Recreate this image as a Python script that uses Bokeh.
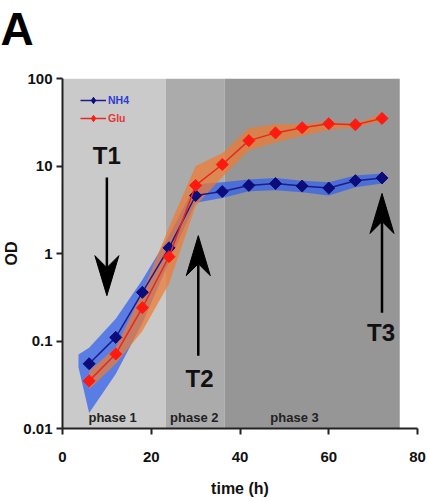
import numpy as np
from bokeh.plotting import figure
from bokeh.models import Legend, LegendItem, FixedTicker, Range1d, Title
from bokeh.core.properties import value
from bokeh.embed import file_html
from bokeh.resources import INLINE

# ---------------- data ----------------
times = [6, 12, 18, 24, 30, 36, 42, 48, 54, 60, 66, 72]
nh4 = [0.055, 0.11, 0.36, 1.16, 4.6, 5.1, 6.0, 6.3, 5.9, 5.6, 6.8, 7.3]
glu = [0.035, 0.071, 0.24, 0.92, 6.0, 10.4, 19.5, 23.9, 27.4, 30.4, 29.6, 35.0]

nh4_band_t = [3.6, 6, 12, 18, 24, 30, 36, 42, 48, 54, 60, 66, 72]
nh4_hi = [0.070, 0.084, 0.18, 0.50, 1.6, 6.2, 6.5, 7.0, 7.3, 6.8, 6.5, 7.8, 8.2]
nh4_lo = [0.050, 0.015, 0.042, 0.16, 0.8, 3.8, 4.3, 5.15, 5.3, 5.0, 4.6, 5.7, 6.3]

glu_band_t = [6, 12, 18, 24, 30, 36, 42, 48, 54, 60, 66, 72]
glu_hi = [0.045, 0.085, 0.36, 2.0, 10.0, 14.0, 27.0, 30.0, 30.0, 32.0, 30.0, 40.0]
glu_lo = [0.028, 0.055, 0.13, 0.45, 3.5, 7.5, 15.0, 18.6, 22.0, 26.0, 27.5, 33.0]

phase_start = [0, 23.3, 36.5]
phase_end = [23.3, 36.5, 76]
phase_names = ["phase 1", "phase 2", "phase 3"]
phase_label_x = [11.3, 29.7, 52.3]

x_ticks = [0, 20, 40, 60, 80]
y_ticks = [0.01, 0.1, 1, 10, 100]
y_tick_labels = ["0.01", "0.1", "1", "10", "100"]

# arrows: (x, start, tip)
arrow_x = [10, 30.6, 72]
arrow_start = [7.4, 0.068, 0.21]
arrow_tip = [0.33, 1.6, 4.85]
arrow_names = ["T1", "T2", "T3"]
arrow_label_x = [10, 30.9, 71.8]
arrow_label_y = [13.2, 0.037, 0.125]

FONT = "Liberation Sans"

# ---------------- figure ----------------
FW, FH = 355, 350
p = figure(width=428, height=501, x_range=Range1d(0, 80), y_range=Range1d(0.01, 100),
           y_axis_type="log", output_backend="svg", toolbar_location=None, title=None,
           min_border_left=62, min_border_right=11, min_border_top=78, min_border_bottom=73)
p.outline_line_color = None
p.xgrid.visible = False
p.ygrid.visible = False
p.background_fill_color = "white"

# phases
p.quad(left=phase_start, right=phase_end, bottom=0.01, top=100,
       fill_color=["#cacaca", "#ababab", "#969696"], line_color=None)

# bands
p.varea(x=nh4_band_t, y1=nh4_lo, y2=nh4_hi, fill_color="#2f5ff0", fill_alpha=0.72)
p.varea(x=glu_band_t, y1=glu_lo, y2=glu_hi, fill_color="#f07a30", fill_alpha=0.72)

# series
NAVY, RED = "#0c0c7a", "#ff1a10"
l_nh4 = p.line(times, nh4, line_color="#1c1c8c", line_width=1.5)
m_nh4 = p.scatter(times, nh4, marker="square", angle=np.pi / 4, size=8.5,
                  fill_color=NAVY, line_color=NAVY)
l_glu = p.line(times, glu, line_color="#e8281e", line_width=1.5)
m_glu = p.scatter(times, glu, marker="square", angle=np.pi / 4, size=8.5,
                  fill_color=RED, line_color=RED)

# key-only marker glyphs (nothing visible in the plot) so the legend shows diamonds
k_nh4 = p.scatter(x=[np.nan], y=[np.nan], marker="diamond", size=13,
                  fill_color=NAVY, line_color=NAVY)
k_glu = p.scatter(x=[np.nan], y=[np.nan], marker="diamond", size=13,
                  fill_color=RED, line_color=RED)

# arrows
PX_X = FW / 80.0
PX_DEC = FH / 4.0


def head(x, tip, direction, length=40, notch=28, half_w=12):
    dx = half_w / PX_X
    back = tip * 10 ** (-direction * length / PX_DEC)
    nt = tip * 10 ** (-direction * notch / PX_DEC)
    return [x, x + dx, x, x - dx], [tip, back, nt, back], nt


hx, hy, sx0, sy0, sy1 = [], [], [], [], []
for x, s, t in zip(arrow_x, arrow_start, arrow_tip):
    d = 1 if t > s else -1
    xs, ys, nt = head(x, t, d)
    hx.append(xs)
    hy.append(ys)
    sx0.append(x)
    sy0.append(s)
    sy1.append(nt)
p.segment(x0=sx0, y0=sy0, x1=sx0, y1=sy1, line_color="black", line_width=2.5)
p.patches(hx, hy, fill_color="black", line_color="black", line_width=1)

p.text(x=arrow_label_x, y=arrow_label_y, text=arrow_names, text_font=value(FONT),
       text_font_style="bold", text_font_size="24px", text_align="center",
       text_baseline="middle", text_color="#111111")

# phase labels
p.text(x=phase_label_x, y=[0.0134] * 3, text=phase_names, text_font=value(FONT),
       text_font_style="bold", text_font_size="13px", text_align="center",
       text_baseline="middle", text_color="#222222")

# legends (location y = legend bottom, measured from frame bottom)
def mk_legend(label, rends, color, vy):
    return Legend(items=[LegendItem(label=label, renderers=rends)], location=(18, vy),
                  background_fill_alpha=0, border_line_alpha=0, padding=0, margin=0,
                  glyph_width=26, glyph_height=16, label_height=16, label_standoff=2,
                  label_text_font=FONT, label_text_font_size="10.5px",
                  label_text_font_style="bold", label_text_color=color)

p.add_layout(mk_legend("NH4", [l_nh4, k_nh4], "#2b3bd6", 320), "center")
p.add_layout(mk_legend("Glu", [l_glu, k_glu], "#e03838", 302), "center")

# axes
for ax in (p.xaxis[0], p.yaxis[0]):
    ax.axis_line_width = 2
    ax.axis_line_color = "#222222"
    ax.major_tick_line_color = "#222222"
    ax.major_tick_line_width = 2
    ax.major_tick_out = 6
    ax.major_tick_in = 0
    ax.minor_tick_line_color = None
    ax.major_label_text_font = FONT
    ax.major_label_text_font_style = "bold"
    ax.major_label_text_font_size = "15px"
    ax.major_label_text_color = "#111111"
    ax.axis_label_text_font = FONT
    ax.axis_label_text_font_style = "bold"
    ax.axis_label_text_font_size = "16px"
    ax.axis_label_text_color = "#111111"

p.xaxis.ticker = FixedTicker(ticks=x_ticks)
p.xaxis.axis_label = "time (h)"
p.xaxis.major_label_standoff = 17
p.xaxis.axis_label_standoff = 15

p.yaxis.ticker = FixedTicker(ticks=y_ticks)
p.yaxis.major_label_overrides = {t: l for t, l in zip(y_ticks, y_tick_labels)}
p.yaxis.axis_label = "OD"
p.yaxis.major_label_standoff = 4
p.yaxis.axis_label_standoff = 0

# blank spacer title next to the frame, then the panel letter above it
p.add_layout(Title(text=" ", text_font_size="20px", standoff=0), "above")
p.add_layout(Title(text="A", text_font=FONT, text_font_style="bold", text_font_size="46px",
                   align="left", vertical_align="bottom", offset=-62, standoff=0,
                   text_color="black"), "above")

open("out.html", "w").write(file_html(p, INLINE))
